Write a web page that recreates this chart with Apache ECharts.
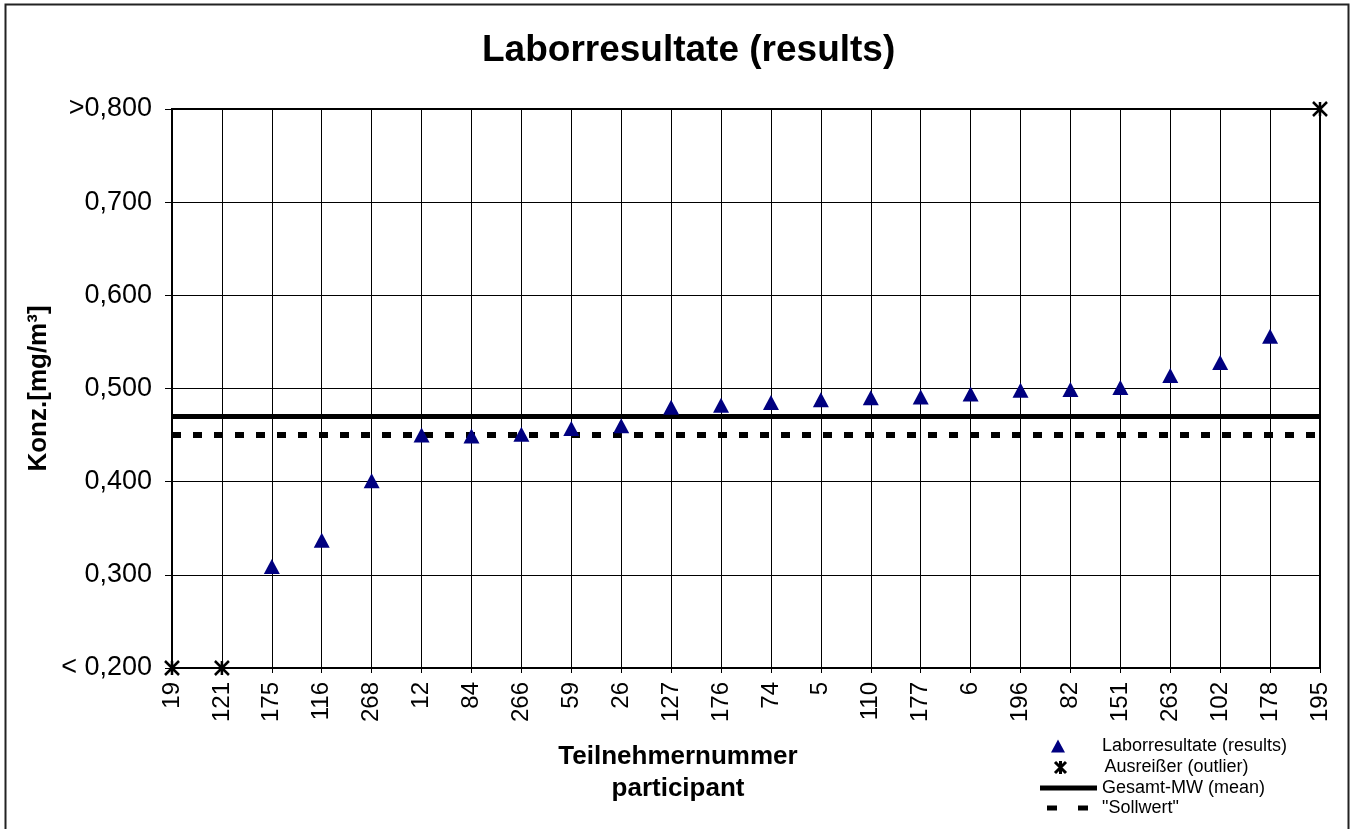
<!DOCTYPE html>
<html><head><meta charset="utf-8">
<script src="https://cdn.jsdelivr.net/npm/echarts@6/dist/echarts.min.js"></script>
<style>html,body{margin:0;padding:0;background:#fff}#c{width:1356px;height:829px}</style>
</head><body><div id="c"></div>
<script>
const categories = ['19','121','175','116','268','12','84','266','59','26','127','176','74','5','110','177','6','196','82','151','263','102','178','195'];
const results = [null,null,0.309,0.337,0.401,0.450,0.449,0.451,0.457,0.460,0.480,0.482,0.485,0.488,0.490,0.491,0.494,0.498,0.499,0.501,0.514,0.528,0.556,null];
const outliers = [0.2,0.2,null,null,null,null,null,null,null,null,null,null,null,null,null,null,null,null,null,null,null,null,null,0.8];
const meanValue = 0.468;
const sollwert = 0.445;
const yMin = 0.2, yMax = 0.8, yStep = 0.1;

const FONT = '"Liberation Sans", Arial, sans-serif';
const starPath = 'path://M0,0L10,10M10,0L0,10M5,0L5,10';
// legend icons drawn in a 57x14 box (degenerate corner points fix the bounding box)
const BOX = 'M0,0L0,0Z M57,14L57,14Z ';
const legTri = 'path://' + BOX + 'M11,13.5L18,0.5L25,13.5Z';
const legStar = 'path://' + BOX + 'M12.5,1.5L23.5,12.5 M23.5,1.5L12.5,12.5 M18,0.5L18,13.5';
const legMean = 'path://' + BOX + 'M0,4.5L57,4.5L57,9.5L0,9.5Z';
const legSoll = 'path://' + BOX + 'M7,4.5L17,4.5L17,9.5L7,9.5Z M38,4.5L48,4.5L48,9.5L38,9.5Z';

const chart = echarts.init(document.getElementById('c'));
const legendBase = {orient:'vertical', left:1040, padding:0, itemGap:0, itemWidth:57, itemHeight:14, symbolKeepAspect:false,
  textStyle:{fontFamily:FONT,fontSize:18,color:'#000'}, selectedMode:false};
chart.setOption({
  animation:false,
  textStyle:{fontFamily:FONT},
  title:{text:'Laborresultate (results)', left:477, top:27, textStyle:{fontFamily:FONT,fontSize:37,fontWeight:'bold',color:'#000'}},
  graphic:[{type:'rect', shape:{x:5.5,y:4.5,width:1343,height:900}, style:{fill:'none',stroke:'#222',lineWidth:2}, silent:true}],
  grid:{left:172, right:36, top:109, bottom:161, show:true, borderColor:'#000', borderWidth:2, backgroundColor:'transparent'},
  xAxis:{type:'category', data:categories, boundaryGap:false,
    name:'Teilnehmernummer\nparticipant', nameLocation:'middle', nameGap:73, nameMoveOverlap:false,
    nameTextStyle:{fontFamily:FONT,fontSize:26,fontWeight:'bold',color:'#000',lineHeight:32,padding:[0,136,0,0]},
    axisLine:{lineStyle:{color:'#000',width:2}},
    axisTick:{show:true,inside:false,length:5,lineStyle:{color:'#000'}},
    axisLabel:{rotate:90, fontSize:24, color:'#000', fontFamily:FONT, margin:14, interval:0},
    splitLine:{show:true, interval:0, lineStyle:{color:'#000',width:1}}},
  yAxis:{type:'value', min:yMin, max:yMax, interval:yStep,
    name:'Konz.[mg/m³]', nameLocation:'middle', nameGap:120, nameMoveOverlap:false,
    nameTextStyle:{fontFamily:FONT,fontSize:26,fontWeight:'bold',color:'#000'},
    axisLine:{show:true,lineStyle:{color:'#000',width:2}},
    axisTick:{show:true,length:7,lineStyle:{color:'#000'}},
    axisLabel:{fontSize:27,color:'#000',fontFamily:FONT,margin:20,
      formatter:v=>{const s=v.toFixed(3).replace('.',','); if(Math.abs(v-yMin)<1e-9) return '< '+s; if(Math.abs(v-yMax)<1e-9) return '>'+s; return s;}},
    splitLine:{show:true,lineStyle:{color:'#000',width:1}}},
  legend:[
    Object.assign({}, legendBase, {top:737, data:[{name:'Laborresultate (results)', icon:legTri, itemStyle:{color:'#000080',borderWidth:0}}]}),
    Object.assign({}, legendBase, {top:758, data:[{name:'Ausreißer (outlier)', icon:legStar, itemStyle:{color:'none',borderColor:'#000',borderWidth:3}}]}),
    Object.assign({}, legendBase, {top:779, data:[{name:'Gesamt-MW (mean)', icon:legMean, itemStyle:{color:'#000',borderWidth:0}}]}),
    Object.assign({}, legendBase, {top:799, data:[{name:'"Sollwert"', icon:legSoll, itemStyle:{color:'#000',borderWidth:0}}]})
  ],
  series:[
    {name:'Gesamt-MW (mean)', type:'line', data:[], symbol:'none', lineStyle:{color:'#000',width:4}, itemStyle:{color:'#000'},
      markLine:{silent:true, symbol:'none', label:{show:false}, lineStyle:{color:'#000',width:5,type:'solid',opacity:1}, data:[{yAxis:meanValue}]}},
    {name:'"Sollwert"', type:'line', data:[], symbol:'none', lineStyle:{color:'#000',width:5}, itemStyle:{color:'#000'},
      markLine:{silent:true, symbol:'none', label:{show:false}, lineStyle:{color:'#000',width:6,type:[9,12],opacity:1}, data:[{yAxis:sollwert}]}},
    {name:'Laborresultate (results)', type:'scatter', data:results, symbol:'triangle', symbolSize:[16,15], itemStyle:{color:'#000080',opacity:1}, z:5},
    {name:'Ausreißer (outlier)', type:'scatter', data:outliers, symbol:starPath, symbolSize:14, itemStyle:{color:'none',borderColor:'#000',borderWidth:2.5,opacity:1}, z:6}
  ]
});
</script></body></html>
